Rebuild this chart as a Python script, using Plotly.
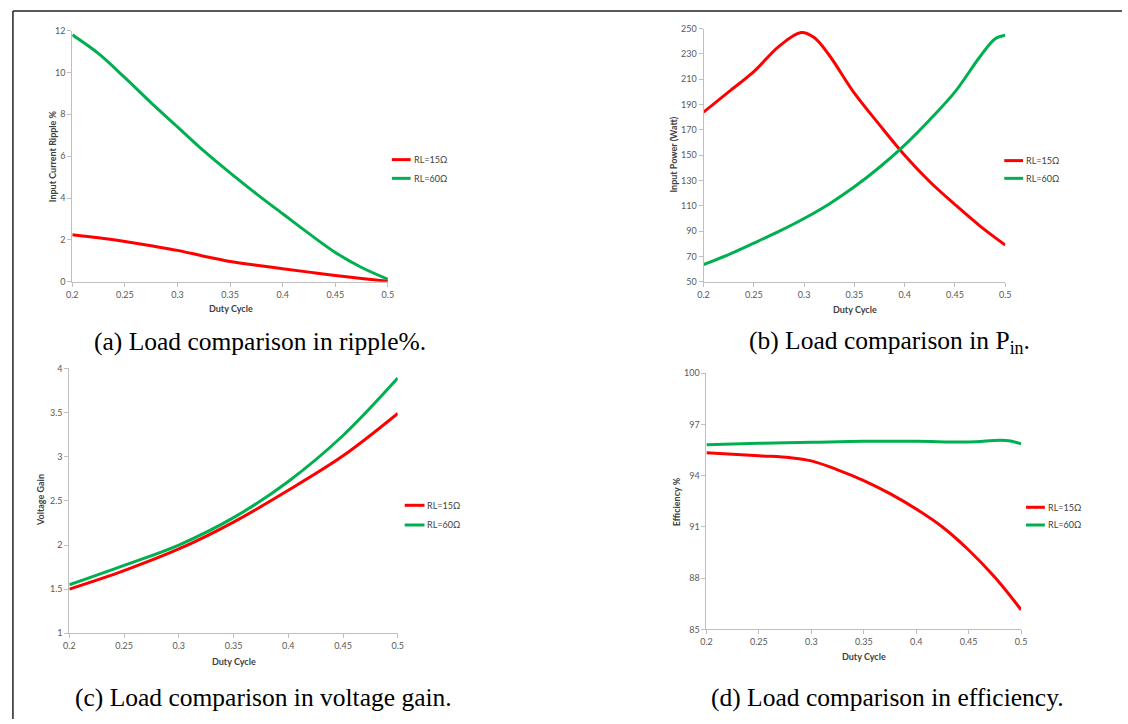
import plotly.graph_objects as go

W, H = 1128, 724

# ---------------- data ----------------
duty_a = [0.2, 0.225, 0.25, 0.275, 0.3, 0.325, 0.35, 0.375, 0.4, 0.425, 0.45, 0.475, 0.5]
ripple_15 = [2.25, 2.1, 1.92, 1.72, 1.5, 1.22, 0.97, 0.79, 0.62, 0.46, 0.3, 0.16, 0.02]
ripple_60 = [11.8, 10.9, 9.75, 8.55, 7.4, 6.25, 5.2, 4.2, 3.25, 2.3, 1.4, 0.68, 0.12]

duty_b_15 = [0.2, 0.225, 0.25, 0.275, 0.297, 0.31, 0.325, 0.35, 0.375, 0.4, 0.425, 0.45, 0.475, 0.5]
pin_15 = [184, 200, 216, 236, 247, 243, 229, 199, 174, 150, 129, 111, 94, 79]
duty_b_60 = [0.2, 0.225, 0.25, 0.275, 0.3, 0.325, 0.35, 0.375, 0.4, 0.425, 0.45, 0.475, 0.49, 0.5]
pin_60 = [63.5, 71.5, 80.5, 89.8, 100, 111.5, 125, 140.5, 158, 178, 200, 228, 242, 244.8]

duty_c = [0.2, 0.25, 0.3, 0.35, 0.4, 0.45, 0.5]
gain_15 = [1.5, 1.71, 1.955, 2.26, 2.62, 3.01, 3.49]
gain_60 = [1.55, 1.77, 2.0, 2.31, 2.72, 3.24, 3.89]

duty_d = [0.2, 0.25, 0.28, 0.3, 0.325, 0.35, 0.375, 0.4, 0.425, 0.45, 0.475, 0.5]
eff_15 = [95.35, 95.17, 95.06, 94.87, 94.35, 93.72, 92.95, 92.05, 91.0, 89.65, 88.05, 86.15]
duty_d60 = [0.2, 0.25, 0.3, 0.35, 0.4, 0.45, 0.48, 0.49, 0.5]
eff_60 = [95.81, 95.9, 95.96, 96.02, 96.02, 95.98, 96.08, 96.03, 95.87]

x_ticks = [0.2, 0.25, 0.3, 0.35, 0.4, 0.45, 0.5]
x_tick_text = ["0.2", "0.25", "0.3", "0.35", "0.4", "0.45", "0.5"]
ticks_a = [0, 2, 4, 6, 8, 10, 12]
ticks_b = [50, 70, 90, 110, 130, 150, 170, 190, 210, 230, 250]
ticks_c = [1, 1.5, 2, 2.5, 3, 3.5, 4]
ticks_d = [85, 88, 91, 94, 97, 100]

series_names = ["RL=15Ω", "RL=60Ω"]
RED = "#ff0000"
GREEN = "#00b050"

captions = [
    "(a) Load comparison in ripple%.",
    "(b) Load comparison in P<sub>in</sub>.",
    "(c) Load comparison in voltage gain.",
    "(d) Load comparison in efficiency.",
]
y_titles = ["Input Current Ripple %", "Input Power (Watt)", "Voltage Gain", "Efficiency %"]
x_title = "Duty Cycle"

# ---------------- layout helpers ----------------
def px(x):
    return x / W

def py(y):
    return 1 - y / H

# plot areas in pixel coords: (left, right, top, bottom)
areas = [
    (67, 386, 25, 280),
    (705, 1010, 23, 280),
    (64, 396, 368, 637),
    (708, 1026, 373, 633),
]
y_ranges = [[0, 12], [50, 250], [1, 4], [85, 100]]
y_tickvals = [ticks_a, ticks_b, ticks_c, ticks_d]

fig = go.Figure()

data_sets = [
    (duty_a, ripple_15, duty_a, ripple_60),
    (duty_b_15, pin_15, duty_b_60, pin_60),
    (duty_c, gain_15, duty_c, gain_60),
    (duty_d, eff_15, duty_d60, eff_60),
]

for i, (x1, y1, x2, y2) in enumerate(data_sets):
    xa = "x" if i == 0 else f"x{i+1}"
    ya = "y" if i == 0 else f"y{i+1}"
    fig.add_trace(go.Scatter(x=x1, y=y1, mode="lines", name=series_names[0],
                             line=dict(color=RED, width=3, shape="spline", smoothing=1.0),
                             xaxis=xa, yaxis=ya, showlegend=False))
    fig.add_trace(go.Scatter(x=x2, y=y2, mode="lines", name=series_names[1],
                             line=dict(color=GREEN, width=3, shape="spline", smoothing=1.0),
                             xaxis=xa, yaxis=ya, showlegend=False))

tick_font = dict(family="Lato, Carlito, Open Sans, sans-serif", size=9, color="#595959")
axis_common = dict(showgrid=False, zeroline=False, showline=True, linecolor="#bfbfbf",
                   linewidth=1, ticks="outside", ticklen=4, tickcolor="#bfbfbf",
                   tickfont=tick_font, fixedrange=True)

layout_axes = {}
for i, (l, r, t, b) in enumerate(areas):
    xk = "xaxis" if i == 0 else f"xaxis{i+1}"
    yk = "yaxis" if i == 0 else f"yaxis{i+1}"
    xa = "x" if i == 0 else f"x{i+1}"
    ya = "y" if i == 0 else f"y{i+1}"
    layout_axes[xk] = dict(domain=[px(l), px(r)], range=[0.2, 0.5], anchor=ya,
                           tickvals=x_ticks, ticktext=x_tick_text, **axis_common)
    layout_axes[yk] = dict(domain=[py(b), py(t)], range=y_ranges[i], anchor=xa,
                           tickvals=y_tickvals[i], **axis_common)

fig.update_layout(**layout_axes)

annotations = []
shapes = []

title_font = dict(family="Lato, Carlito, Open Sans, sans-serif", size=9, color="#404040")

# axis titles
ytitle_pos = [(47, 153), (675, 151), (35, 502), (678, 503)]
xtitle_pos = [(227, 307), (858, 308), (230, 666), (867, 661)]
for i in range(4):
    annotations.append(dict(text=f"<b>{y_titles[i]}</b>", x=px(ytitle_pos[i][0]), y=py(ytitle_pos[i][1]),
                            xref="paper", yref="paper", showarrow=False, textangle=-90,
                            xanchor="center", yanchor="middle", font=title_font))
    annotations.append(dict(text=f"<b>{x_title}</b>", x=px(xtitle_pos[i][0]), y=py(xtitle_pos[i][1]),
                            xref="paper", yref="paper", showarrow=False,
                            xanchor="center", yanchor="middle", font=title_font))

# legends (manual)
legend_pos = [  # (line_x0, line_x1, y15, y60)
    (390, 409, 156, 175),
    (1009, 1028, 157, 175),
    (403, 423, 507, 527),
    (1031, 1050, 509, 527),
]
for (x0, x1, ya_, yb_) in legend_pos:
    for yy, col, nm in [(ya_, RED, series_names[0]), (yb_, GREEN, series_names[1])]:
        shapes.append(dict(type="line", xref="paper", yref="paper",
                           x0=px(x0), x1=px(x1), y0=py(yy), y1=py(yy),
                           line=dict(color=col, width=3)))
        annotations.append(dict(text=nm, x=px(x1 + 1), y=py(yy), xref="paper", yref="paper",
                                showarrow=False, xanchor="left", yanchor="middle",
                                font=dict(family="Lato, Carlito, Open Sans, sans-serif", size=9, color="#404040")))

# captions
cap_pos = [(87, 341), (749, 341), (68, 702), (711, 702)]
for i in range(4):
    annotations.append(dict(text=captions[i], x=px(cap_pos[i][0]), y=py(cap_pos[i][1]),
                            xref="paper", yref="paper", showarrow=False,
                            xanchor="left", yanchor="middle",
                            font=dict(family="Liberation Serif, Times New Roman, serif", size=25.5, color="#000000")))

# frame lines
shapes.append(dict(type="line", xref="paper", yref="paper", x0=px(7), x1=1, y0=py(5), y1=py(5),
                   line=dict(color="#222222", width=1.5)))
shapes.append(dict(type="line", xref="paper", yref="paper", x0=px(7), x1=px(7), y0=py(5), y1=0,
                   line=dict(color="#222222", width=1.5)))

fig.update_layout(width=W, height=H, margin=dict(l=0, r=0, t=0, b=0),
                  paper_bgcolor="white", plot_bgcolor="white",
                  annotations=annotations, shapes=shapes, showlegend=False)

fig.write_html("out.html", config={"displayModeBar": False})
